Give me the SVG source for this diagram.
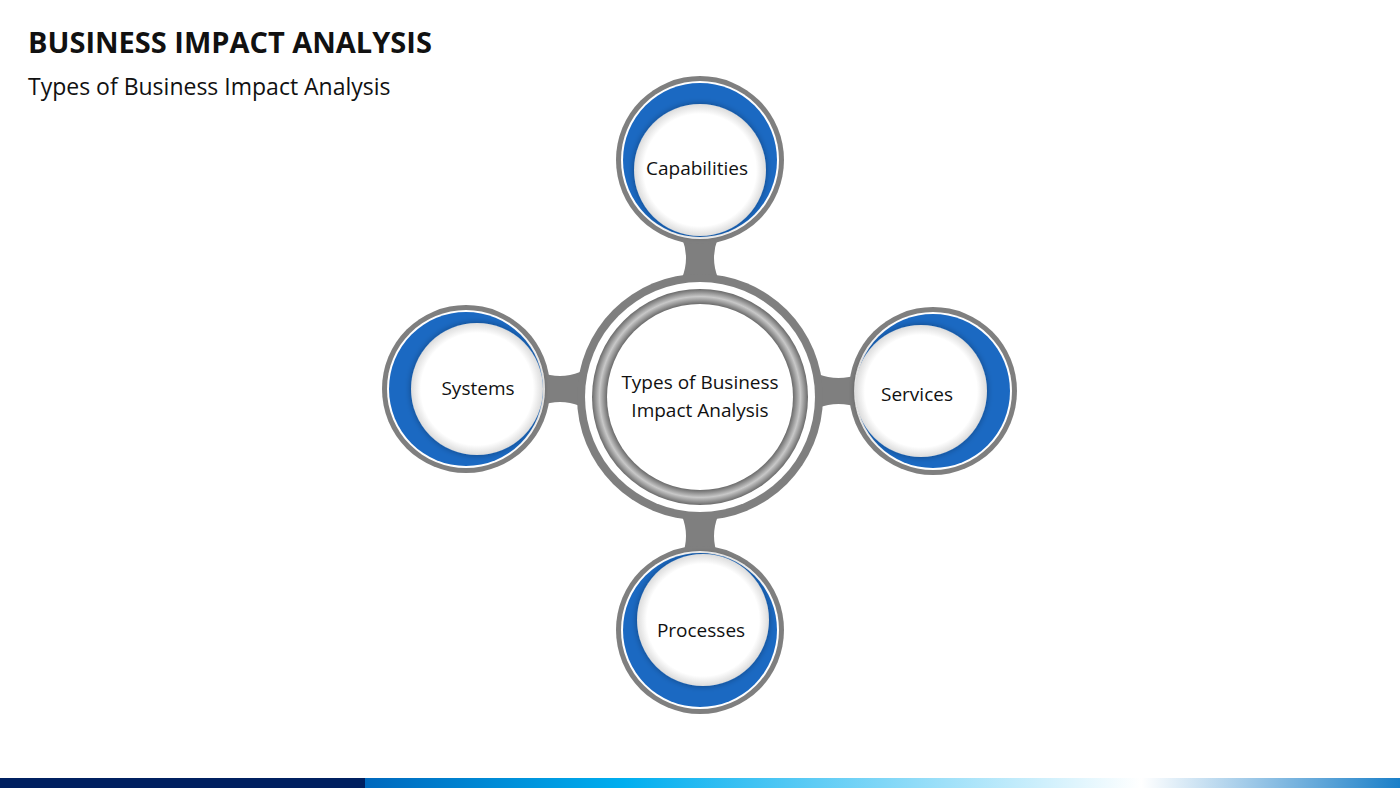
<svg xmlns="http://www.w3.org/2000/svg" width="1400" height="788" viewBox="0 0 1400 788">
<defs>
<style>
.t{font-family:"Open Sans","Liberation Sans",sans-serif;fill:#111}
.g{fill:#7f7f7f}
.b{fill:#1b69c2}
.w{fill:#fff}
</style>
<linearGradient id="bar" x1="0" x2="1" y1="0" y2="0">
<stop offset="0" stop-color="#0068bd"/><stop offset="0.25" stop-color="#00aeef"/><stop offset="0.75" stop-color="#ffffff"/><stop offset="1" stop-color="#1a7fc8"/>
</linearGradient>
<radialGradient id="inner" cx="0.5" cy="0.5" r="0.5">
<stop offset="0.85" stop-color="#fff"/><stop offset="1" stop-color="#dcdcdc"/>
</radialGradient>
<radialGradient id="tube" cx="0.5" cy="0.5" r="0.5">
<stop offset="0.86" stop-color="#6a6a6a"/><stop offset="0.93" stop-color="#c8c8c8"/><stop offset="1" stop-color="#6a6a6a"/>
</radialGradient>
<filter id="sh" x="-20%" y="-20%" width="140%" height="140%"><feDropShadow dx="0" dy="0" stdDeviation="3" flood-color="#000" flood-opacity="0.35"/></filter>
</defs>
<rect width="1400" height="788" fill="#fff"/>
<text x="28" y="53" class="t" style="font-size:29px;font-weight:bold">BUSINESS IMPACT ANALYSIS</text>
<text x="28" y="95" class="t" style="font-size:23px">Types of Business Impact Analysis</text>
<g id="connectors" class="g">
<path d="M682,238 Q690,258 682,278 L718,278 Q710,258 718,238 Z"/>
<path d="M682,516 Q690,536 682,556 L718,556 Q710,536 718,516 Z"/>
<path d="M540,372 Q560,380 580,372 L580,406 Q560,398 540,406 Z"/>
<path d="M818,374 Q838,382 860,374 L860,408 Q838,400 818,408 Z"/>
</g>
<g id="center">
<circle cx="700" cy="397" r="123" class="g"/>
<circle cx="700" cy="397" r="115" class="w"/>
<circle cx="700" cy="397" r="108" fill="url(#tube)"/>
<circle cx="700" cy="397" r="93" class="w"/>
<text x="700" y="389" text-anchor="middle" class="t" style="font-size:19px">Types of Business</text>
<text x="700" y="417" text-anchor="middle" class="t" style="font-size:19px">Impact Analysis</text>
</g>
<g id="capabilities">
<circle cx="700" cy="160" r="84" class="g"/><circle cx="700" cy="160" r="79" class="w"/><circle cx="700" cy="160" r="77" class="b"/>
<circle cx="700" cy="170" r="66" fill="url(#inner)" filter="url(#sh)"/>
<text x="697" y="175" text-anchor="middle" class="t" style="font-size:19px">Capabilities</text>
</g>
<g id="systems">
<circle cx="466" cy="389" r="84" class="g"/><circle cx="466" cy="389" r="79" class="w"/><circle cx="466" cy="389" r="77" class="b"/>
<circle cx="477" cy="389" r="66" fill="url(#inner)" filter="url(#sh)"/>
<text x="478" y="395" text-anchor="middle" class="t" style="font-size:19px">Systems</text>
</g>
<g id="services">
<circle cx="933" cy="391" r="84" class="g"/><circle cx="933" cy="391" r="79" class="w"/><circle cx="933" cy="391" r="77" class="b"/>
<circle cx="921" cy="391" r="66" fill="url(#inner)" filter="url(#sh)"/>
<text x="917" y="401" text-anchor="middle" class="t" style="font-size:19px">Services</text>
</g>
<g id="processes">
<circle cx="700" cy="630" r="84" class="g"/><circle cx="700" cy="630" r="79" class="w"/><circle cx="700" cy="630" r="77" class="b"/>
<circle cx="703" cy="620" r="66" fill="url(#inner)" filter="url(#sh)"/>
<text x="701" y="637" text-anchor="middle" class="t" style="font-size:19px">Processes</text>
</g>
<rect x="0" y="778" width="365" height="10" fill="#002060"/>
<rect x="365" y="778" width="1035" height="10" fill="url(#bar)"/>
</svg>
